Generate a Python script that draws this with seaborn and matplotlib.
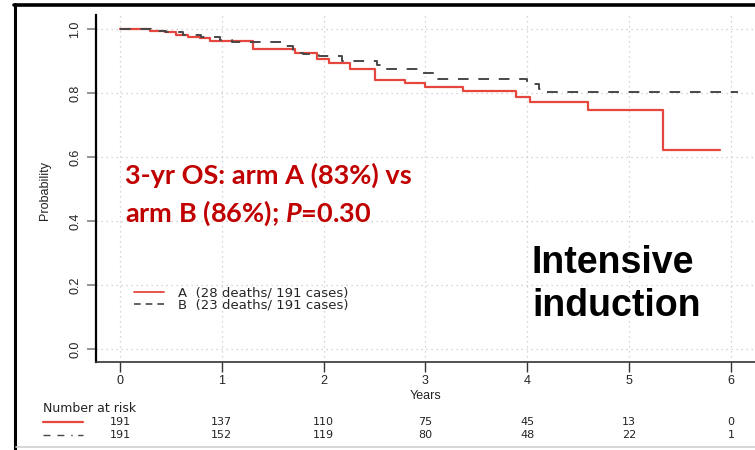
import matplotlib
matplotlib.use("Agg")
import matplotlib.pyplot as plt
import matplotlib.transforms as mtransforms
from matplotlib.lines import Line2D
import pandas as pd
import seaborn as sns

# ---------------- data ----------------
arm_a_time = [0, 0.29, 0.44, 0.55, 0.67, 0.79, 0.88, 1.31, 1.72, 1.93, 2.05,
              2.26, 2.50, 2.80, 3.00, 3.37, 3.89, 4.03, 4.60, 5.33, 5.89]
arm_a_surv = [1.0, 0.994, 0.990, 0.983, 0.976, 0.971, 0.963, 0.937, 0.924, 0.906, 0.893,
              0.876, 0.841, 0.830, 0.820, 0.806, 0.788, 0.771, 0.747, 0.622, 0.622]

arm_b_time = [0, 0.30, 0.45, 0.62, 0.80, 0.98, 1.10, 1.63, 1.70, 1.80, 1.95,
              2.18, 2.52, 2.60, 2.98, 3.12, 4.00, 4.12, 4.14, 6.07]
arm_b_surv = [1.0, 0.995, 0.990, 0.983, 0.975, 0.966, 0.960, 0.947, 0.926, 0.921, 0.917,
              0.900, 0.887, 0.874, 0.864, 0.843, 0.827, 0.812, 0.802, 0.802]

x_ticks = [0, 1, 2, 3, 4, 5, 6]
y_ticks = [0.0, 0.2, 0.4, 0.6, 0.8, 1.0]
y_tick_labels = ["0.0", "0.2", "0.4", "0.6", "0.8", "1.0"]
risk_a = [191, 137, 110, 75, 45, 13, 0]
risk_b = [191, 152, 119, 80, 48, 22, 1]
legend_labels = ["A  (28 deaths/ 191 cases)", "B  (23 deaths/ 191 cases)"]
annot_line1 = "3-yr OS: arm A (83%) vs"
annot_line2 = "arm B (86%); $P$=0.30"
big_label = ["Intensive", "induction"]

color_a = "#E5473F"
color_b = "#474747"
dash_b = (0, (5.5, 5))

# ---------------- style ----------------
sns.set_style("white")
plt.rcParams["font.family"] = ["Liberation Sans", "DejaVu Sans"]
plt.rcParams["mathtext.fontset"] = "custom"
plt.rcParams["mathtext.it"] = "Lato:italic:bold"
plt.rcParams["mathtext.rm"] = "Lato:bold"

W, H = 755, 450
fig = plt.figure(figsize=(W / 100, H / 100), dpi=100)
fig.patch.set_facecolor("white")


def fx(px):
    return px / W


def fy(py):
    return 1 - py / H


ax = fig.add_axes([fx(96), fy(362), (W - 96) / W, (362 - 15) / H])
ax.set_facecolor("white")

df_a = pd.DataFrame({"time": arm_a_time, "surv": arm_a_surv})
df_b = pd.DataFrame({"time": arm_b_time, "surv": arm_b_surv})
sns.lineplot(data=df_a, x="time", y="surv", ax=ax, drawstyle="steps-post",
             color=color_a, linewidth=1.6, estimator=None, zorder=3)
sns.lineplot(data=df_b, x="time", y="surv", ax=ax, drawstyle="steps-post",
             color=color_b, linewidth=1.4, linestyle=dash_b, estimator=None, zorder=4)

ax.set_xlim(-0.236, 6.237)
ax.set_ylim(-0.0406, 1.044)
ax.set_xticks(x_ticks)
ax.set_xticklabels([str(t) for t in x_ticks])
ax.set_yticks(y_ticks)
ax.set_yticklabels(y_tick_labels, rotation=90, va="center")
ax.set_xlabel("")
ax.set_ylabel("")

ax.grid(True, color="#c8c8c8", linestyle=(0, (1, 3)), linewidth=0.9)
ax.set_axisbelow(True)
for s in ["top", "right"]:
    ax.spines[s].set_visible(False)
ax.spines["left"].set_color("black")
ax.spines["bottom"].set_color("#333333")
ax.spines["left"].set_linewidth(1.6)
ax.spines["bottom"].set_linewidth(1.2)
ax.tick_params(axis="y", length=6.5, width=1.3, color="#8a8a8a", labelsize=9,
               labelcolor="#222222", pad=4, left=True, direction="out")
ax.tick_params(axis="x", length=7, width=1.0, color="#333333", labelsize=9,
               labelcolor="#222222", pad=2, bottom=True, direction="out")

# y label
fig.text(fx(45), fy(190), "Probability", rotation=90, ha="center", va="center",
         fontsize=9, color="#222222")
# x label
fig.text(ax.transData.transform((3, 0))[0] / W, fy(396), "Years", ha="center",
         va="center", fontsize=9, color="#222222")

# legend
handles = [Line2D([], [], color=color_a, linewidth=1.3),
           Line2D([], [], color=color_b, linewidth=1.2, linestyle=(0, (4, 3)))]
ax.legend(handles, legend_labels, loc="upper left",
          bbox_to_anchor=(fx(134), fy(287)), bbox_transform=fig.transFigure,
          frameon=False, handlelength=2.3, handletextpad=1.0,
          prop={"family": "DejaVu Sans", "size": 9.5},
          labelspacing=-0.08, borderpad=0, borderaxespad=0)

# annotation texts
fig.text(fx(125), fy(175), annot_line1, ha="left", va="center", fontsize=19.5,
         fontweight="bold", family="Lato", color="#C00000")
fig.text(fx(125), fy(213), annot_line2, ha="left", va="center", fontsize=19.5,
         fontweight="bold", family="Lato", color="#C00000")
fig.text(fx(532), fy(263), big_label[0], ha="left", va="center", fontsize=27,
         fontweight="bold", color="black")
fig.text(fx(532), fy(306), big_label[1], ha="left", va="center", fontsize=27,
         fontweight="bold", color="black")

# number at risk table
blend = mtransforms.blended_transform_factory(ax.transData, fig.transFigure)
fig.text(fx(43), fy(408), "Number at risk", ha="left", va="center", fontsize=9,
         family="DejaVu Sans", color="#222222")
for t, na, nb in zip(x_ticks, risk_a, risk_b):
    ax.text(t, fy(422), str(na), transform=blend, ha="center", va="center",
            fontsize=8, family="DejaVu Sans", color="#222222", clip_on=False)
    ax.text(t, fy(435), str(nb), transform=blend, ha="center", va="center",
            fontsize=8, family="DejaVu Sans", color="#222222", clip_on=False)
fig.add_artist(Line2D([fx(43), fx(83)], [fy(422), fy(422)], color=color_a,
                      linewidth=1.6, transform=fig.transFigure))
fig.add_artist(Line2D([fx(43), fx(83)], [fy(435), fy(435)], color=color_b,
                      linewidth=1.0, linestyle=(0, (5, 5, 5, 5, 1, 4)),
                      transform=fig.transFigure))

# slide frame
fig.add_artist(Line2D([fx(15), fx(15)], [fy(4), fy(450)], color="black",
                      linewidth=2.2, transform=fig.transFigure))
fig.add_artist(Line2D([fx(14), fx(755)], [fy(5), fy(5)], color="black",
                      linewidth=2.6, transform=fig.transFigure))
fig.add_artist(Line2D([fx(16), fx(755)], [fy(447), fy(447)], color="#d0d0d0",
                      linewidth=1.2, transform=fig.transFigure))

fig.savefig("out.png", dpi=100, facecolor="white")
